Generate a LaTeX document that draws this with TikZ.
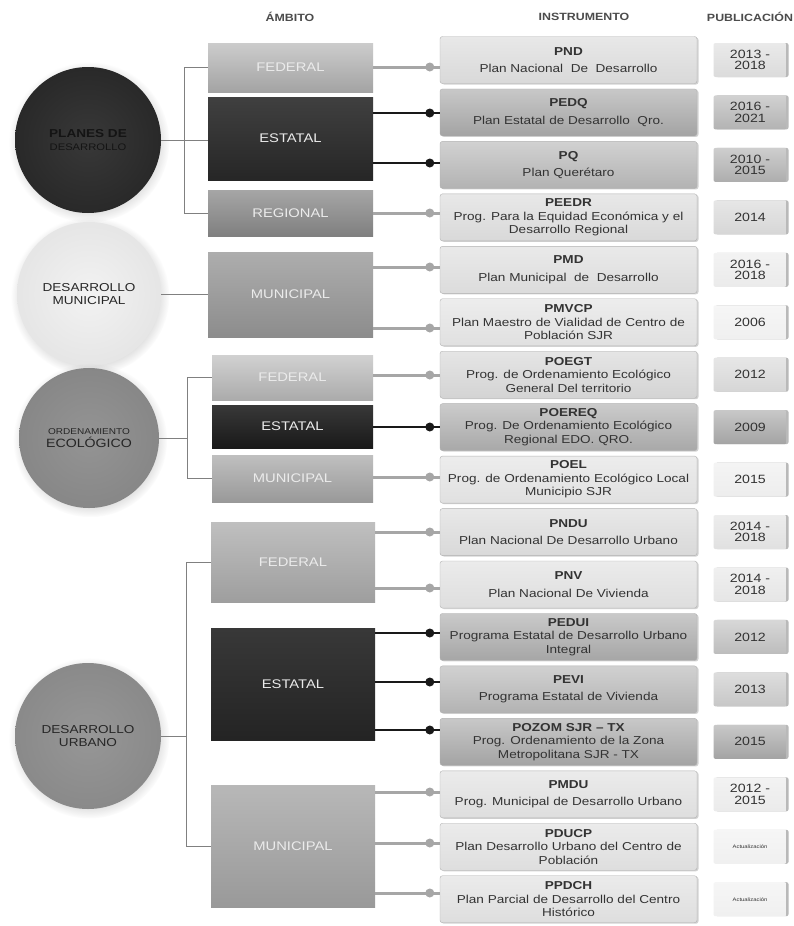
\documentclass[tikz,border=0pt]{standalone}
\usepackage{fontspec}
\setmainfont{Liberation Sans}[FakeStretch=1.18]
\usetikzlibrary{shadows}
\tikzset{
  hdr/.style={font=\bfseries\fontsize{10.5}{11}\selectfont,text=black!70},
  ball/.style={circle,minimum size=146pt,inner sep=0pt,align=center,font=\fontsize{11.5}{12.5}\selectfont,
    circular drop shadow={opacity=.25,shadow xshift=1pt,shadow yshift=-2pt}},
  amb/.style={minimum width=165pt,inner sep=0pt,text=white!92!black,font=\fontsize{12.5}{13}\selectfont},
  instr/.style={draw=black!30,rounded corners=2.5pt,minimum width=257pt,minimum height=47pt,inner sep=0pt,
    align=center,text=black!80,font=\fontsize{11.5}{13.5}\selectfont,
    drop shadow={opacity=.35,shadow xshift=1.5pt,shadow yshift=-1pt}},
  pub/.style={minimum width=73pt,minimum height=34pt,inner sep=0pt,align=center,rounded corners=2pt,
    text=black!80,font=\fontsize{12}{11.5}\selectfont,
    drop shadow={opacity=.55,shadow xshift=2pt,shadow yshift=0pt}},
  bracket/.style={draw=black!50,line width=1pt},
  glink/.style={draw=black!35,line width=3pt},
  blink/.style={draw=black!90,line width=2.5pt},
  gdot/.style={fill=black!35},
  bdot/.style={fill=black!90},
}
\begin{document}
\begin{tikzpicture}[x=1pt,y=-1pt]
\useasboundingbox[fill=white](0,0)rectangle(793,926);
% column headers
\node[hdr](hAmb)at(290,17){ÁMBITO};
\node[hdr](hIns)at(584,17){INSTRUMENTO};
\node[hdr](hPub)at(750,17){PUBLICACIÓN};
% groups
\node[ball,inner color=black!78,outer color=black!84,text=black!92](planes)at(88,140)
  {{\bfseries PLANES DE}\\{\fontsize{9.5}{11}\selectfont DESARROLLO}};
\node[ball,minimum size=144pt,inner color=black!5,outer color=black!10,text=black!85](munic)at(89,294)
  {DESARROLLO\\MUNICIPAL};
\node[ball,minimum size=140pt,inner color=black!42,outer color=black!47,text=black!85](ordeco)at(89,438)
  {{\fontsize{8.5}{9}\selectfont ORDENAMIENTO}\\{\fontsize{12}{12}\selectfont ECOLÓGICO}};
\node[ball,inner color=black!41,outer color=black!46,text=black!85](urbano)at(88,736)
  {DESARROLLO\\URBANO};
% ambito
\node[amb,minimum height=49pt,top color=black!20,bottom color=black!36](fedA)at(290.5,67.5){FEDERAL};
\node[amb,minimum height=83pt,top color=black!75,bottom color=black!85](estA)at(290.5,138.5){ESTATAL};
\node[amb,minimum height=46pt,top color=black!35,bottom color=black!50](regA)at(290.5,213){REGIONAL};
\node[amb,minimum height=85pt,top color=black!32,bottom color=black!45](munB)at(290.5,294.5){MUNICIPAL};
\node[amb,minimum width=161pt,minimum height=45pt,top color=black!18,bottom color=black!33](fedC)at(292.5,377.5){FEDERAL};
\node[amb,minimum width=161pt,minimum height=43pt,top color=black!78,bottom color=black!90](estC)at(292.5,426.5){ESTATAL};
\node[amb,minimum width=161pt,minimum height=47pt,top color=black!25,bottom color=black!40](munC)at(292.5,478.5){MUNICIPAL};
\node[amb,minimum width=164pt,minimum height=80pt,top color=black!25,bottom color=black!38](fedD)at(293,562){FEDERAL};
\node[amb,minimum width=164pt,minimum height=112pt,top color=black!78,bottom color=black!86](estD)at(293,684){ESTATAL};
\node[amb,minimum width=164pt,minimum height=122pt,top color=black!28,bottom color=black!40](munD)at(293,846){MUNICIPAL};
% brackets
\draw[bracket](planes.east)--(planes.east-|estA.west);
\draw[bracket](fedA.west)--++(-23,0)|-(regA.west);
\draw[bracket](munic.east)--(munic.east-|munB.west);
\draw[bracket](fedC.west)--++(-24,0)coordinate(vC)|-(munC.west);
\draw[bracket](ordeco.east)--(ordeco.east-|vC);
\draw[bracket](fedD.west)--++(-24,0)coordinate(vD)|-(munD.west);
\draw[bracket](urbano.east)--(urbano.east-|vD);
% instrumentos y publicacion
\foreach\i/\t/\d/\g/\p/\n/\pn/\a/\l/\c[evaluate=\i as \y using 60+52.45*\i,
    evaluate=\n as \nt using \n*0.6,evaluate=\pn as \pt using \pn*0.6]in{
  0/PND/Plan Nacional~ De~ Desarrollo/4pt/{2013 -\\2018}/15/14/fedA/g/67,
  1/PEDQ/Plan Estatal de Desarrollo~ Qro./4pt/{2016 -\\2021}/36/30/estA/b/113,
  2/PQ/Plan Querétaro/4pt/{2010 -\\2015}/30/32/estA/b/163,
  3/PEEDR/{Prog. Para la Equidad Económica y el\\Desarrollo Regional}/0pt/2014/15/16/regA/g/213,
  4/PMD/Plan Municipal~ de~ Desarrollo/4pt/{2016 -\\2018}/14/8/munB/g/267,
  5/PMVCP/{Plan Maestro de Vialidad de Centro de\\Población SJR}/0pt/2006/12/6/munB/g/328,
  6/POEGT/{Prog. de Ordenamiento Ecológico\\General Del territorio}/0pt/2012/17/16/fedC/g/375,
  7/POEREQ/{Prog. De Ordenamiento Ecológico\\Regional EDO. QRO.}/0pt/2009/34/36/estC/b/427,
  8/POEL/{Prog. de Ordenamiento Ecológico Local\\Municipio SJR}/0pt/2015/12/7/munC/g/477,
  9/PNDU/Plan Nacional De Desarrollo Urbano/4pt/{2014 -\\2018}/15/12/fedD/g/532,
  10/PNV/Plan Nacional De Vivienda/4pt/{2014 -\\2018}/13/10/fedD/g/588,
  11/PEDUI/{Programa Estatal de Desarrollo Urbano\\Integral}/0pt/2012/35/26/estD/b/633,
  12/PEVI/Programa Estatal de Vivienda/4pt/2013/30/22/estD/b/682,
  13/POZOM SJR – TX/{Prog. Ordenamiento de la Zona\\Metropolitana SJR - TX}/0pt/2015/36/36/estD/b/730,
  14/PMDU/Prog. Municipal de Desarrollo Urbano/4pt/{2012 -\\2015}/13/8/munD/g/792,
  15/PDUCP/{Plan Desarrollo Urbano del Centro de\\Población}/0pt/{\tiny Actualización}/13/6/munD/g/843,
  16/PPDCH/{Plan Parcial de Desarrollo del Centro\\Histórico}/0pt/{\tiny Actualización}/13/6/munD/g/893}{
  \node[instr,top color=black!\nt,bottom color=black!\n](in\i)at(568.5,\y){\textbf{\t}\\[\g]\d};
  \node[pub,top color=black!\pt,bottom color=black!\pn](pu\i)at(750,\y){\p};
  \coordinate(c\i)at(0,\c);
  \draw[\l link](\a.east|-c\i)--(in\i.west|-c\i);
  \fill[\l dot]([xshift=-10pt]in\i.west|-c\i)circle(4.5pt);
}
\end{tikzpicture}
\end{document}
